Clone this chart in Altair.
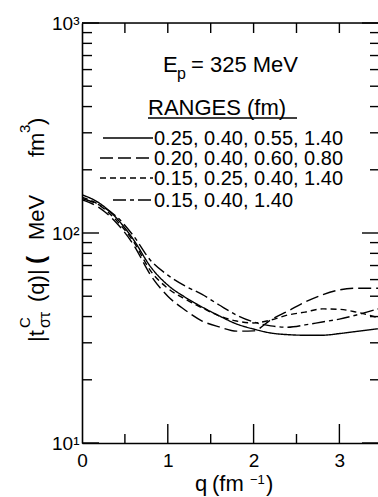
import altair as alt
import pandas as pd

# ---- data ----
q = [0, 0.2, 0.4, 0.6, 0.8, 1.0, 1.2, 1.4, 1.6, 1.8, 2.0, 2.2, 2.4, 2.6, 2.8, 3.0, 3.2, 3.45]
solid = [152, 139, 118, 93, 69, 56.5, 49.5, 44.4, 40.3, 36.9, 34.9, 33.4, 32.8, 32.6, 32.6, 33.2, 34.0, 35.0]
longdash = [144, 132, 112, 88, 63, 50, 43, 38.1, 35.7, 34.1, 34.2, 38.6, 42.5, 46.9, 50.7, 53.6, 54.6, 54.6]
shortdash = [148, 136, 115, 91, 66, 54.5, 48.5, 44, 40.3, 38.1, 37.3, 38.5, 40.7, 42, 43.5, 43.3, 42, 39.5]
dashdot = [146, 136, 120, 97, 74, 63, 56, 51, 45.4, 40.7, 37.7, 36.1, 35.6, 36.5, 37.7, 38.9, 40.7, 43.5]

series_names = ["0.25, 0.40, 0.55, 1.40", "0.20, 0.40, 0.60, 0.80",
                "0.15, 0.25, 0.40, 1.40", "0.15, 0.40, 1.40"]
series_values = [solid, longdash, shortdash, dashdot]

x_labels = [0, 1, 2, 3]
x_major = [1, 2, 3]
x_minor = [0.5, 1.5, 2.5]
top_ticks = [0.5, 1, 1.5, 2, 2.5, 3]
y_major = [10, 100, 1000]
y_minor = [20, 30, 40, 50, 60, 70, 80, 90, 200, 300, 400, 500, 600, 700, 800, 900]

FONT = "Liberation Sans"
W, H = 296, 420
L, T = 82, 23
dashes = [[1, 0], [13, 5], [6, 4], [13, 4, 4, 4]]

rows = []
for name, vals in zip(series_names, series_values):
    for qq, v in zip(q, vals):
        rows.append({"q": qq, "v": v, "s": name})
df = pd.DataFrame(rows)

xs = alt.Scale(domain=[0, 3.45], nice=False, zero=False)
ys = alt.Scale(type="log", domain=[10, 1000], nice=False)

xaxis = alt.Axis(values=x_labels, title=None, ticks=False, grid=False,
                 domainColor="black", domainWidth=1.6, labelFont=FONT,
                 labelFontSize=19, labelColor="black", labelPadding=8, labelFlush=False)
yaxis = alt.Axis(values=y_major, title=None, ticks=False, grid=False,
                 domainColor="black", domainWidth=1.6, labelFont=FONT,
                 labelFontSize=19, labelColor="black", labelPadding=3, labelFlush=False,
                 labelExpr="datum.value == 10 ? '10\u00b9' : datum.value == 100 ? '10\u00b2' : '10\u00b3'")

lines = alt.Chart(df).mark_line(color="black", strokeWidth=1.4, interpolate="monotone", clip=True).encode(
    x=alt.X("q:Q", scale=xs, axis=xaxis),
    y=alt.Y("v:Q", scale=ys, axis=yaxis),
    strokeDash=alt.StrokeDash("s:N", scale=alt.Scale(domain=series_names, range=dashes), legend=None),
    detail="s:N",
)

def yticks(vals, x0, x1):
    return alt.Chart(pd.DataFrame({"v": vals})).mark_rule(color="black", strokeWidth=1.4).encode(
        y=alt.Y("v:Q", scale=ys, axis=yaxis), x=alt.value(x0), x2=alt.value(x1))

def xticks(vals, y0, y1):
    return alt.Chart(pd.DataFrame({"q": vals})).mark_rule(color="black", strokeWidth=1.4).encode(
        x=alt.X("q:Q", scale=xs, axis=xaxis), y=alt.value(y0), y2=alt.value(y1))

ticks = [
    yticks(y_major, 0, 17), yticks(y_minor, 0, 10),
    yticks(y_major, W - 16, W), yticks(y_minor, W - 8, W),
    xticks(x_major, H, H - 19), xticks(x_minor, H, H - 9),
    xticks(top_ticks, 0, 10),
]

one = pd.DataFrame({"a": [0]})

top_border = alt.Chart(one).mark_rule(color="black", strokeWidth=1.6).encode(
    x=alt.value(0), x2=alt.value(W), y=alt.value(0))

def txt(s, x, y, size=21, angle=0, align="left", baseline="alphabetic", weight="normal"):
    return alt.Chart(one).mark_text(text=s, font=FONT, fontSize=size, angle=angle, align=align,
                                    baseline=baseline, fontWeight=weight, color="black").encode(
        x=alt.value(x - L), y=alt.value(y - T))

def seg(x0, x1, y, dash):
    return alt.Chart(one).mark_rule(color="black", strokeWidth=1.5, strokeDash=dash).encode(
        x=alt.value(x0 - L), x2=alt.value(x1 - L), y=alt.value(y - T))

texts = [
    txt("E", 163, 72, 22),
    txt("p", 177, 79, 16),
    txt("= 325 MeV", 191, 72, 22),
    txt("RANGES (fm)", 148, 115, 22),
    seg(148, 297, 118, [1, 0]),
]
row_y = [138, 158, 178, 200]
row_x0 = [103, 100, 100, 113]
for name, yy, x0, d in zip(series_names, row_y, row_x0, dashes):
    texts.append(seg(x0, 153, yy, d))
    texts.append(txt(name, 154, yy + 7, 20))

# y-axis title pieces (reading bottom to top)
ytitle = [
    txt("|t", 44, 342, 22, angle=270),
    txt("C", 30, 328, 15, angle=270),
    txt("\u03c3\u03c4", 50, 328, 16, angle=270),
    txt("(q)|", 44, 302, 22, angle=270),
    txt("(", 44, 264, 24, angle=270, weight="bold"),
    txt("MeV", 44, 240, 22, angle=270),
    txt("fm", 44, 157, 22, angle=270),
    txt("3", 30, 133, 15, angle=270),
    txt(")", 44, 125, 22, angle=270),
]
xtitle = [
    txt("q", 195, 491, 22),
    txt("(fm", 212, 491, 22),
    txt("\u22121", 250, 484, 13),
    txt(")", 266, 491, 22),
]

chart = alt.layer(lines, top_border, *ticks, *texts, *ytitle, *xtitle).properties(
    width=W, height=H,
    autosize=alt.AutoSizeParams(type="none"),
    padding={"left": L, "top": T, "right": 0, "bottom": 497 - T - H},
).configure_view(stroke=None).configure(background="white")

chart.save("out.html", embed_options={"renderer": "svg", "actions": False})
